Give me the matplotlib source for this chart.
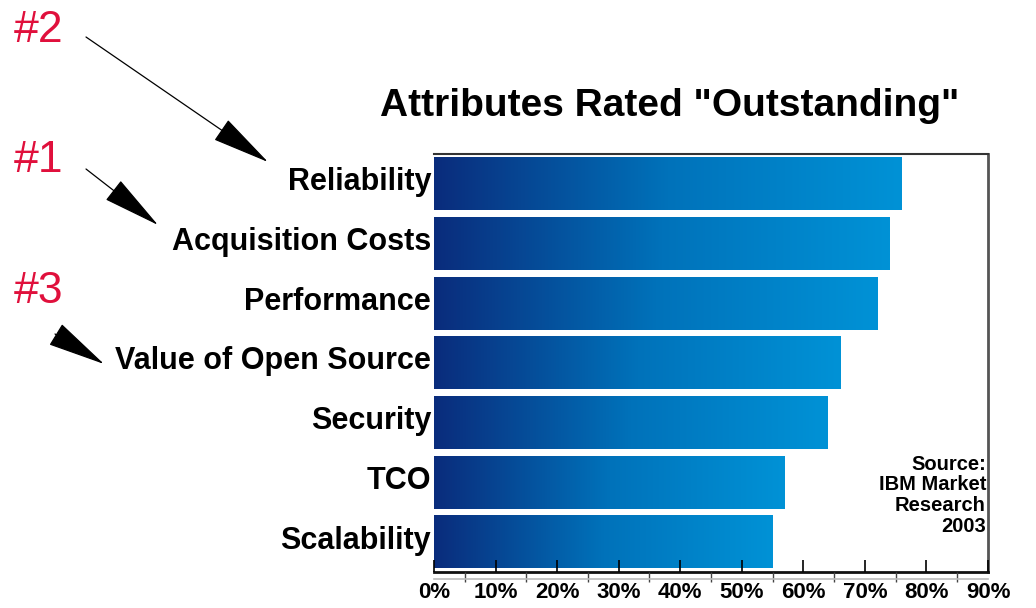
import matplotlib
matplotlib.use("Agg")
import matplotlib.pyplot as plt
import numpy as np
from matplotlib.colors import LinearSegmentedColormap
from matplotlib.patches import FancyArrowPatch
from matplotlib.transforms import ScaledTranslation

plt.rcParams['font.family'] = ['Liberation Sans', 'DejaVu Sans']

categories = ["Reliability", "Acquisition Costs", "Performance",
              "Value of Open Source", "Security", "TCO", "Scalability"]
values = [76, 74, 72, 66, 64, 57, 55]
xticks = [0, 10, 20, 30, 40, 50, 60, 70, 80, 90]
xtick_labels = [f"{t}%" for t in xticks]
title = 'Attributes Rated "Outstanding"'
source_text = "Source:\nIBM Market\nResearch\n2003"
rank_labels = ["#2", "#1", "#3"]

W, H = 1036, 608
fig = plt.figure(figsize=(W / 100, H / 100), dpi=100)
ax = fig.add_axes([434 / W, 36 / H, 554 / W, 418 / H])

cmap = LinearSegmentedColormap.from_list("bluegrad", ["#0A2C7C", "#0072BA", "#0092D6"])
grad = np.linspace(0, 1, 256).reshape(1, -1)
bar_h = 0.88
for i, v in enumerate(values):
    ax.imshow(grad, cmap=cmap, aspect='auto', interpolation='bilinear',
              extent=[0, v, i + bar_h / 2, i - bar_h / 2], zorder=1)

ax.set_axisbelow(False)
ax.set_xlim(0, 90)
ax.set_ylim(len(categories) - 0.5, -0.5)
ax.set_yticks(range(len(categories)))
ax.set_yticklabels(categories, fontsize=22, fontweight='bold')
ax.tick_params(axis='y', length=0, pad=2)
shift = ScaledTranslation(0, 5 / 100, fig.dpi_scale_trans)
for lab in ax.get_yticklabels():
    lab.set_transform(lab.get_transform() + shift)

ax.set_xticks(xticks)
ax.set_xticklabels(xtick_labels, fontsize=16, fontweight='bold')
ax.set_xticks(np.arange(5, 90, 10), minor=True)
ax.tick_params(axis='x', which='major', direction='in', length=9, width=1.2, pad=7)
ax.tick_params(axis='x', which='minor', direction='out', length=7, width=1.0, color='#444444')

ax.spines['left'].set_visible(False)
ax.spines['top'].set_color('#333333')
ax.spines['top'].set_linewidth(1.5)
ax.spines['right'].set_color('#555555')
ax.spines['right'].set_linewidth(2)
ax.spines['bottom'].set_color('#111111')
ax.spines['bottom'].set_linewidth(2)
ax.set_facecolor('white')

def fx(px):
    return px / W

def fy(py):
    return 1 - py / H

# second grey line under the bottom axis
fig.add_artist(plt.Line2D([fx(434), fx(988)], [fy(579), fy(579)],
                          color='#BBBBBB', lw=1.2, transform=fig.transFigure))

fig.text(fx(670), fy(106), title, ha='center', va='center',
         fontsize=28, fontweight='bold')

fig.text(fx(986), fy(455), source_text, ha='right', va='top',
         multialignment='right', fontsize=14.5, fontweight='bold',
         linespacing=1.1)

red = "#E0103C"
for lab, base in zip(rank_labels, [42, 172, 303]):
    fig.text(fx(14), fy(base), lab, ha='left', va='baseline',
             fontsize=32, color=red)

arrows = [((86, 37), (268, 162)), ((86, 169), (158, 225)), ((55, 334), (104, 364))]
for (x0, y0), (x1, y1) in arrows:
    a = FancyArrowPatch((fx(x0), fy(y0)), (fx(x1), fy(y1)),
                        transform=fig.transFigure,
                        arrowstyle="-|>,head_length=38,head_width=8",
                        mutation_scale=1, color='black', lw=0.9,
                        shrinkA=0, shrinkB=0)
    fig.patches.append(a)

fig.savefig("out.png", dpi=100)
